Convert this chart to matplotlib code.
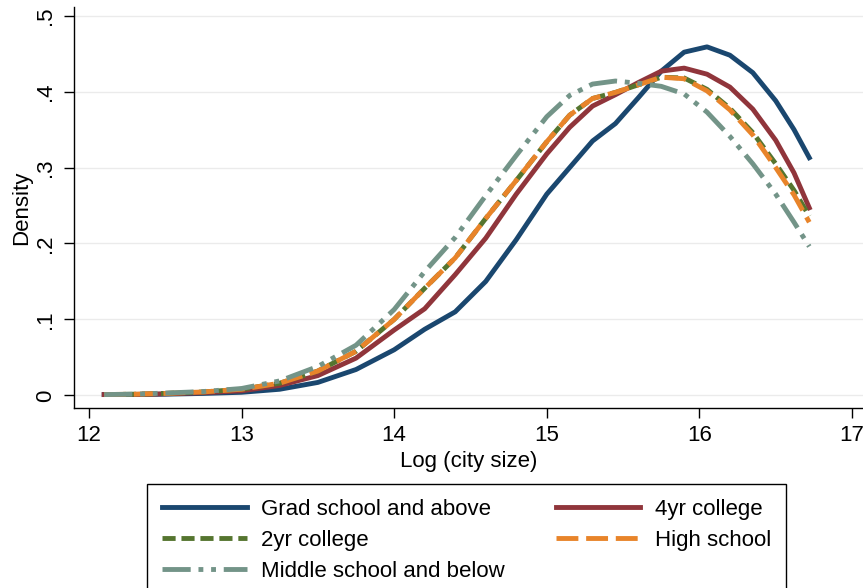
from matplotlib import pyplot as plt

plt.rcParams['font.family'] = 'Liberation Sans'

# log city size grid
log_size = [12.1, 12.3, 12.5, 12.75, 13.0, 13.25, 13.5, 13.75, 14.0, 14.2, 14.4, 14.6, 14.8,
            15.0, 15.15, 15.3, 15.45, 15.6, 15.75, 15.9, 16.05, 16.2, 16.35, 16.5, 16.62, 16.72]

grad = [0.001, 0.001, 0.0015, 0.0025, 0.004, 0.008, 0.017, 0.034, 0.060, 0.087, 0.110, 0.150, 0.205,
        0.265, 0.300, 0.335, 0.358, 0.392, 0.427, 0.452, 0.459, 0.448, 0.425, 0.388, 0.350, 0.313]
college4 = [0.001, 0.0012, 0.002, 0.0035, 0.006, 0.013, 0.026, 0.049, 0.086, 0.114, 0.159, 0.207, 0.265,
            0.318, 0.353, 0.381, 0.396, 0.412, 0.427, 0.431, 0.423, 0.406, 0.377, 0.336, 0.293, 0.247]
college2 = [0.001, 0.0015, 0.0025, 0.0045, 0.008, 0.016, 0.032, 0.058, 0.100, 0.141, 0.181, 0.233, 0.283,
            0.334, 0.369, 0.391, 0.399, 0.409, 0.419, 0.418, 0.403, 0.378, 0.346, 0.305, 0.270, 0.236]
high_school = [0.001, 0.0015, 0.0025, 0.0045, 0.008, 0.016, 0.032, 0.058, 0.100, 0.141, 0.181, 0.233, 0.283,
               0.334, 0.369, 0.391, 0.399, 0.409, 0.419, 0.417, 0.401, 0.376, 0.343, 0.300, 0.264, 0.228]
middle = [0.001, 0.0015, 0.003, 0.005, 0.009, 0.019, 0.038, 0.066, 0.113, 0.163, 0.208, 0.263, 0.316,
          0.367, 0.395, 0.410, 0.414, 0.411, 0.407, 0.397, 0.373, 0.341, 0.305, 0.265, 0.228, 0.196]

x_ticks = [12, 13, 14, 15, 16, 17]
y_ticks = [0, 0.1, 0.2, 0.3, 0.4, 0.5]
y_tick_labels = ['0', '.1', '.2', '.3', '.4', '.5']


def plot_densities():
    fig = plt.figure(figsize=(8.63, 5.88), dpi=100)
    ax = fig.add_axes([0.0857, 0.3061, 0.9143, 0.682])
    lw = 3.5
    h_grad, = ax.plot(log_size, grad, color='#1a476f', lw=lw, label='Grad school and above')
    h_4yr, = ax.plot(log_size, college4, color='#90353b', lw=lw, label='4yr college')
    h_2yr, = ax.plot(log_size, college2, color='#55752f', lw=lw, dashes=(2.7, 1.2), label='2yr college')
    h_hs, = ax.plot(log_size, high_school, color='#e8842a', lw=lw, dashes=(4.5, 1.6), label='High school')
    h_mid, = ax.plot(log_size, middle, color='#739488', lw=lw, dashes=(5.8, 1.6, 1.0, 1.6, 1.0, 1.6),
                     label='Middle school and below')

    ax.set_xlim(11.902, 17.072)
    ax.set_ylim(-0.0167, 0.5115)
    ax.set_xticks(x_ticks)
    ax.set_yticks(y_ticks)
    ax.set_yticklabels(y_tick_labels, rotation=90, va='center')
    ax.tick_params(labelsize=16, length=7, width=1, color='black')
    ax.tick_params(axis='x', pad=5)
    ax.tick_params(axis='y', pad=6)
    ax.grid(axis='y', color='#ebebeb', lw=1)
    ax.set_axisbelow(True)
    for side in ['top', 'right']:
        ax.spines[side].set_visible(False)
    for side in ['left', 'bottom']:
        ax.spines[side].set_linewidth(1)
    ax.set_xlabel('Log (city size)', fontsize=16, labelpad=4)
    ax.set_ylabel('Density', fontsize=16, labelpad=2)

    # column-wise fill gives the row order of the original legend
    handles = [h_grad, h_2yr, h_mid, h_4yr, h_hs]
    leg = fig.legend(handles=handles, labels=[h.get_label() for h in handles], ncol=2,
                     loc='upper left', bbox_to_anchor=(147 / 863, 1 - 484 / 588),
                     bbox_transform=fig.transFigure, borderaxespad=0, fontsize=16,
                     handlelength=3.8, handletextpad=0.65, columnspacing=2.3,
                     labelspacing=0.45, borderpad=0.68, fancybox=False, framealpha=1)
    leg.get_frame().set_edgecolor('black')
    leg.get_frame().set_linewidth(1)

    fig.savefig('out.png', dpi=100)


if __name__ == '__main__':
    plot_densities()
